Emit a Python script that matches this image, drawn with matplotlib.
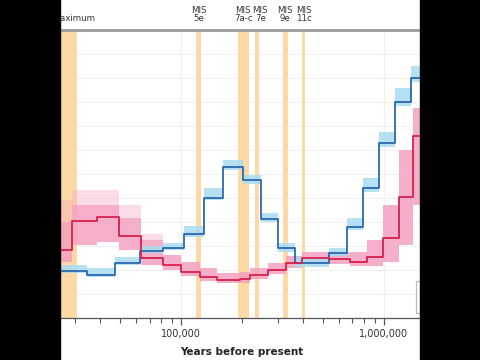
import matplotlib
matplotlib.use("Agg")
import matplotlib.pyplot as plt
from matplotlib.patches import Rectangle
from matplotlib.ticker import FuncFormatter, LogLocator
import matplotlib.transforms as mtransforms
import numpy as np

# Data (years before present / effective size, arbitrary units)
###############################################
blue_edges = [20000, 34400, 47300, 62800, 81500, 103500, 129800, 161000, 202000,
              247800, 300600, 364400, 535800, 657300, 788000, 945000, 1133000,
              1366000, 2000000]
blue_vals = [1.94, 1.81, 2.29, 2.79, 2.92, 3.50, 5.02, 6.29, 5.75, 4.13, 2.92,
             2.29, 2.71, 3.79, 5.42, 7.31, 9.01, 10.0]
blue_boot_lo = [1.88, 1.71, 2.21, 2.71, 2.83, 3.38, 4.92, 6.17, 5.58, 4.00, 2.75,
                2.13, 2.58, 3.67, 5.25, 7.13, 8.83, 9.83]
blue_boot_hi = [2.21, 2.08, 2.54, 3.00, 3.13, 3.83, 5.42, 6.58, 5.96, 4.38, 3.13,
                2.54, 2.92, 4.17, 5.83, 7.75, 9.58, 10.5]

red_edges = [20000, 29040, 38560, 49500, 63500, 81500, 100000, 124000, 150400,
             195300, 218800, 268300, 328900, 394500, 535800, 679900, 824500,
             988700, 1185600, 1390000, 2000000]
red_vals = [2.83, 4.04, 4.21, 3.42, 2.50, 2.21, 1.92, 1.71, 1.60, 1.63, 1.79,
            2.00, 2.29, 2.50, 2.45, 2.35, 2.53, 3.33, 5.04, 7.58]
red_boot_lo = [2.33, 3.04, 3.17, 2.83, 2.21, 2.00, 1.75, 1.54, 1.46, 1.46, 1.63,
               1.83, 2.08, 2.29, 2.25, 2.17, 2.17, 2.33, 3.04, 4.71]
red_boot_hi = [4.00, 4.71, 4.71, 4.17, 3.25, 2.63, 2.33, 2.08, 1.88, 1.92, 2.08,
               2.29, 2.58, 2.75, 2.75, 2.75, 3.25, 4.71, 7.00, 8.75]
red_boot_outer = [4.92, 5.33, 5.33, 4.71, 3.50, 2.63, 2.33, 2.08, 1.88, 1.92, 2.08,
                  2.29, 2.58, 2.75, 2.75, 2.75, 3.25, 4.71, 7.00, 8.75]

# climate periods (start, end) and their labels (label x position, alignment)
periods = [(19000, 30800), (119000, 126000), (191000, 217000),
           (231000, 242000), (319000, 336000), (394000, 411000)]
period_labels = ["Last Glacial Maximum", "MIS\n5e", "MIS\n7a-c", "MIS\n7e",
                 "MIS\n9e", "MIS\n11c"]
label_x = [37700, 122000, 203000, 246000, 327000, 402000]
label_ha = ["right", "center", "center", "center", "center", "center"]

BLUE = "#2a68b0"
LBLUE = "#a8dcf0"
RED = "#d6214f"
PINK = "#f5a0c0"
ORANGE = "#fdd9a6"


def step_xy(edges, vals):
    return np.array(edges), np.append(vals, vals[-1])


# Plot
###############################################
fig = plt.figure(figsize=(4.8, 3.6), dpi=100)
ax = fig.add_axes([40 / 480, 1 - 318 / 360, 404 / 480, 288 / 360])

for x0, x1 in periods:
    ax.axvspan(x0, x1, color=ORANGE, lw=0, zorder=1)

trans = mtransforms.blended_transform_factory(ax.transData, ax.transAxes)
for xc, lab, ha in zip(label_x, period_labels, label_ha):
    ax.text(xc, 1.024, lab, transform=trans, ha=ha, va="bottom",
            fontsize=6.2, color="#333333", linespacing=0.85)

x, lo = step_xy(red_edges, red_boot_lo)
_, hi = step_xy(red_edges, red_boot_outer)
ax.fill_between(x, lo, hi, step="post", color=PINK, alpha=0.35, lw=0, zorder=2)
_, hi = step_xy(red_edges, red_boot_hi)
ax.fill_between(x, lo, hi, step="post", color=PINK, alpha=0.75, lw=0, zorder=2)

x, lo = step_xy(blue_edges, blue_boot_lo)
_, hi = step_xy(blue_edges, blue_boot_hi)
ax.fill_between(x, lo, hi, step="post", color=LBLUE, alpha=0.85, lw=0, zorder=2)

x, y = step_xy(blue_edges, blue_vals)
ax.step(x, y, where="post", color=BLUE, lw=1.3, zorder=4)
x, y = step_xy(red_edges, red_vals)
ax.step(x, y, where="post", color=RED, lw=1.3, zorder=4)

ax.set_xscale("log")
ax.set_xlim(20200, 1980000)
ax.set_ylim(0, 12)
ax.set_yticks(range(0, 13))
ax.grid(True, which="major", color="#f0f0f0", lw=0.8, zorder=0)
ax.set_axisbelow(True)

ax.xaxis.set_major_locator(LogLocator(base=10))
ax.xaxis.set_minor_locator(LogLocator(base=10, subs=np.arange(2, 10)))
ax.xaxis.set_major_formatter(FuncFormatter(lambda v, p: "{:,.0f}".format(v)))
ax.tick_params(axis="x", which="major", length=5, width=0.9, color="#555555",
               labelsize=7, labelcolor="#333333", pad=3)
ax.tick_params(axis="x", which="minor", length=3.5, width=0.8, color="#555555")
ax.tick_params(axis="y", length=0, labelsize=7)
ax.set_xlabel("Years before present", fontsize=7.5, fontweight="bold",
              color="#222222", labelpad=6)

for s in ["left", "right"]:
    ax.spines[s].set_visible(False)
ax.spines["top"].set_color("#9a9a9a")
ax.spines["top"].set_linewidth(2)
ax.spines["bottom"].set_color("#555555")
ax.spines["bottom"].set_linewidth(0.9)

# legend frame (contents fall outside the visible frame)
ax.add_patch(Rectangle((0.93, 0.017), 0.2, 0.11, transform=ax.transAxes,
                       fill=False, ec="#bbbbbb", lw=0.9, zorder=5, clip_on=False))

# black side bars of the video frame
fig.add_artist(Rectangle((0, 0), 60 / 480, 1, transform=fig.transFigure,
                         color="black", zorder=20))
fig.add_artist(Rectangle((420 / 480, 0), 60 / 480, 1, transform=fig.transFigure,
                         color="black", zorder=20))

fig.savefig("out.png", dpi=100, facecolor="white")
